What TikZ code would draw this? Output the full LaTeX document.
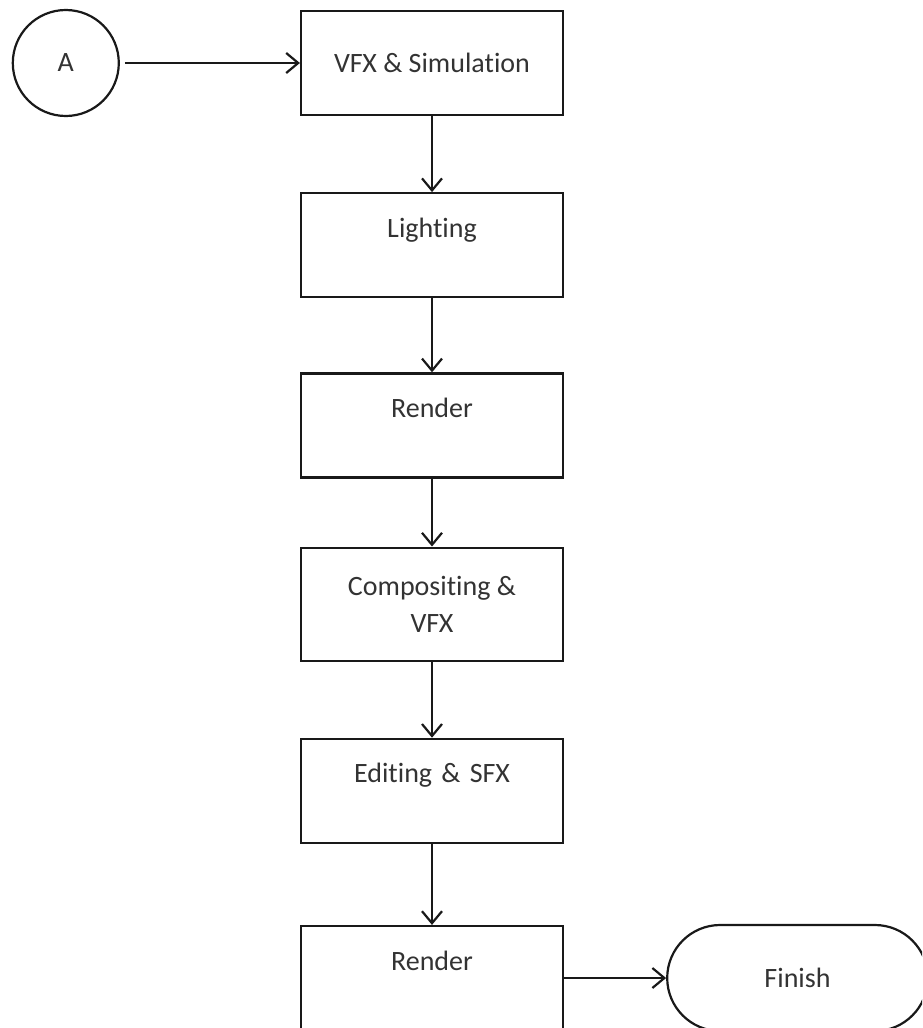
\documentclass[tikz,border=0pt]{standalone}
\usepackage{fontspec}
\setmainfont[Ligatures=NoCommon]{Carlito}
\usetikzlibrary{positioning,shapes.geometric,shapes.misc,arrows.meta}
\tikzstyle{process} = [rectangle, minimum width=131pt, minimum height=52pt, draw=black!90, line width=1.1pt, text=black!80, align=center, font=\fontsize{14}{18.5}\selectfont]
\tikzstyle{processtop} = [process, inner sep=0pt, text width=131pt, text height=22pt, text depth=30pt]
\tikzstyle{connector} = [circle, minimum size=53pt, inner sep=0pt, draw=black!90, line width=1.1pt, text=black!80, font=\fontsize{14}{17}\selectfont]
\tikzstyle{finish} = [rounded rectangle, minimum width=137pt, minimum height=53pt, draw=black!90, line width=1.1pt, text=black!80, font=\fontsize{14}{17}\selectfont]
\tikzstyle{arrow} = [line width=1.1pt, draw=black!90, ->, >={Straight Barb[length=6pt,width=10pt]}]

\begin{document}
\begin{tikzpicture}[node distance=38pt]
\clip (0,0) rectangle (461pt,-514pt);
\node (vfx) [process] at (216pt,-31.5pt) {VFX \& Simulation};
\node (conA) [connector, left=90pt of vfx] {A};
\node (light) [processtop, below=of vfx] {Lighting};
\node (render) [processtop, below=37pt of light] {Render};
\node (comp) [process, minimum height=56.5pt, below=34pt of render] {Compositing \&\\VFX};
\node (edit) [processtop, below=38pt of comp] {Editing \& SFX};
\node (final) [processtop, below=40.5pt of edit] {Render};
\node (fin) [finish, right=51pt of final] {Finish};
%arrows
\draw [arrow, shorten <=2.5pt] (conA) -- (vfx);
\draw [arrow] (vfx) -- (light);
\draw [arrow] (light) -- (render);
\draw [arrow] (render) -- (comp);
\draw [arrow] (comp) -- (edit);
\draw [arrow] (edit) -- (final);
\draw [arrow] (final) -- (fin);
\end{tikzpicture}
\end{document}
